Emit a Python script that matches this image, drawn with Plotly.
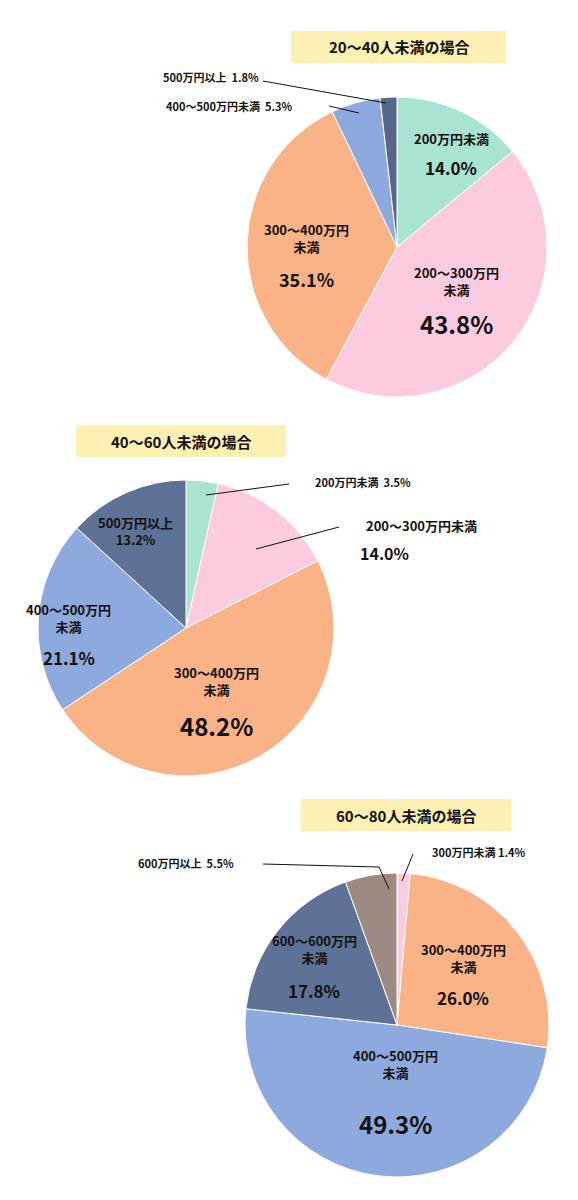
import plotly.graph_objects as go

W, H = 578, 1200
OX, OY = 7, 7
FONT = "Noto Sans CJK JP"

titles = ["20〜40人未満の場合", "40〜60人未満の場合", "60〜80人未満の場合"]
labels1 = ["200万円未満", "200〜300万円未満", "300〜400万円未満", "400〜500万円未満", "500万円以上"]
values1 = [14.0, 43.8, 35.1, 5.3, 1.8]
colors1 = ["#a9e3d3", "#fdcbdf", "#f9b386", "#8ea9dd", "#56678a"]
labels2 = ["200万円未満", "200〜300万円未満", "300〜400万円未満", "400〜500万円未満", "500万円以上"]
values2 = [3.5, 14.0, 48.2, 21.1, 13.2]
colors2 = ["#a9e3d3", "#fdcbdf", "#f9b386", "#8ea9dd", "#5e7196"]
labels3 = ["300万円未満", "300〜400万円未満", "400〜500万円未満", "600〜600万円未満", "600万円以上"]
values3 = [1.4, 26.0, 49.3, 17.8, 5.5]
colors3 = ["#fdcbdf", "#f9b386", "#8ea9dd", "#5e7196", "#9c8b82"]

pies = [
    (labels1, values1, colors1, 396, 246, 150),
    (labels2, values2, colors2, 185, 627, 148),
    (labels3, values3, colors3, 396, 1024, 152),
]

def px(x): return (x - OX) / W
def py(y): return 1 - (y - OY) / H

fig = go.Figure()
for lab, val, col, cx, cy, r in pies:
    fig.add_trace(go.Pie(
        labels=lab, values=val, sort=False, direction="clockwise", rotation=0,
        marker=dict(colors=col, line=dict(color="white", width=1)),
        textinfo="none", hoverinfo="label+percent", showlegend=False,
        domain=dict(x=[px(cx - r), px(cx + r)], y=[py(cy + r), py(cy - r)]),
    ))

ann = []
def t(x, y, s, size):
    ann.append(dict(x=px(x), y=py(y), xref="paper", yref="paper", text=f"<b>{s}</b>",
                    showarrow=False, font=dict(family=FONT, size=size, color="#111"),
                    xanchor="center", yanchor="middle"))

shapes = []
def line(x0, y0, x1, y1):
    shapes.append(dict(type="line", xref="paper", yref="paper", x0=px(x0), y0=py(y0),
                       x1=px(x1), y1=py(y1), line=dict(color="#111", width=1)))

for (x0, y0, x1, y1), s in zip([(290, 30, 505, 62), (75, 424, 285, 456), (300, 798, 510, 830)], titles):
    shapes.append(dict(type="rect", xref="paper", yref="paper", x0=px(x0), x1=px(x1),
                       y0=py(y1), y1=py(y0), fillcolor="#fdf0b2", line=dict(width=0), layer="below"))
    t((x0 + x1) / 2, (y0 + y1) / 2, s, 15)

# pie 1
t(450, 138, "200万円未満", 13); t(450, 166, "14.0%", 17)
t(455, 280, "200〜300万円<br>未満", 13); t(455, 323, "43.8%", 24)
t(305, 237, "300〜400万円<br>未満", 13); t(305, 278, "35.1%", 18)
t(228, 105, "400〜500万円未満  5.3%", 11); t(210, 76, "500万円以上  1.8%", 11)
line(262, 80, 385, 102); line(328, 105, 358, 112)

# pie 2
t(362, 481, "200万円未満  3.5%", 11); line(288, 483, 205, 494)
t(420, 524, "200〜300万円未満", 13); t(383, 552, "14.0%", 16); line(338, 526, 255, 548)
t(134, 530, "500万円以上<br>13.2%", 13)
t(68, 617, "400〜500万円<br>未満", 13); t(68, 656, "21.1%", 17)
t(215, 680, "300〜400万円<br>未満", 13); t(215, 724, "48.2%", 24)

# pie 3
t(185, 862, "600万円以上  5.5%", 11); line(262, 863, 378, 866); line(378, 866, 388, 888)
t(478, 851, "300万円未満 1.4%", 11); line(412, 853, 401, 880)
t(462, 957, "300〜400万円<br>未満", 13); t(462, 996, "26.0%", 17)
t(313, 948, "600〜600万円<br>未満", 13); t(313, 989, "17.8%", 17)
t(394, 1063, "400〜500万円<br>未満", 13); t(394, 1122, "49.3%", 24)

fig.update_layout(width=W, height=H, margin=dict(l=0, r=0, t=0, b=0),
                  paper_bgcolor="white", plot_bgcolor="white",
                  annotations=ann, shapes=shapes, font=dict(family=FONT))
fig.write_html("out.html")
